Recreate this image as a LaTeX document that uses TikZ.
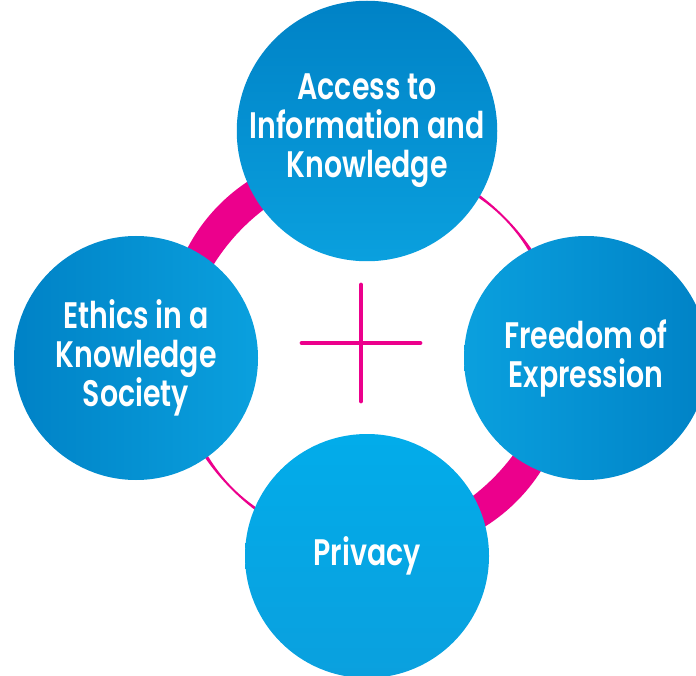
\documentclass[tikz,border=0pt]{standalone}
\usepackage{fontspec}
\usepackage{tikz}
\usetikzlibrary{
    calc,
    positioning,
    shapes
}
\newfontfamily\topicfont{Poppins}[BoldFont={Poppins SemiBold}, FakeStretch=0.77]
\definecolor{topicdark}{RGB}{0,130,198}
\definecolor{topiclight}{RGB}{10,160,222}
\definecolor{privacyblue}{RGB}{2,172,234}
\definecolor{ringpink}{RGB}{236,0,140}
\tikzset{
    % Topic bubble:
    topic node/.style = {
        circle,
        minimum size = 2.44cm,
        inner sep = 0pt,
        align = center,
        text = white,
        font = \topicfont\bfseries\fontsize{10.5}{11.1}\selectfont,
        top color = topicdark,
        bottom color = topiclight
    },
    % Pink ring behind the bubbles:
    ring/.style = {
        fill = ringpink,
        even odd rule
    },
    % Plus sign in the middle:
    cross/.style = {
        draw = ringpink,
        line width = 1.35pt,
        line cap = round
    }
}

\begin{document}
\begin{tikzpicture}
    \useasboundingbox (0, 0) rectangle (6.96, 6.75);
    \clip (0, 0) rectangle (6.96, 6.75);
    \coordinate (hub) at (3.68, 3.22);
    \path [ring, rotate around={-45:(hub)}]
        (hub) ellipse [x radius=2.10, y radius=1.93]
        (hub) ellipse [x radius=1.77, y radius=1.91];
    \node [topic node] (access) at (3.67, 5.44) {Access to\\Information and\\Knowledge};
    \node [topic node, shading angle=90] (ethics) at (1.36, 3.17) {Ethics in a\\Knowledge\\Society};
    \node [topic node, shading angle=-90] (freedom) at (5.86, 3.17) {Freedom of\\Expression};
    \node [topic node, top color=privacyblue, bottom color=topiclight] (privacy) at (3.67, 1.19) {Privacy};
    \coordinate (plus) at (3.61, 3.32);
    \draw [cross] ($(plus) + (-0.59, 0)$) -- ($(plus) + (0.59, 0)$);
    \draw [cross] ($(plus) + (0, -0.58)$) -- ($(plus) + (0, 0.58)$);
\end{tikzpicture}
\end{document}
